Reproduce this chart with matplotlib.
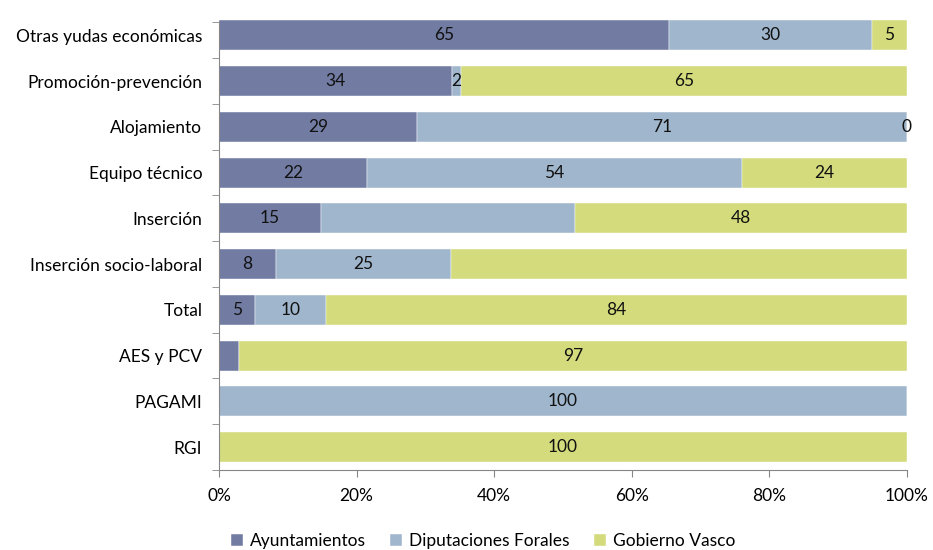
import matplotlib
matplotlib.use("Agg")
import matplotlib.pyplot as plt
from matplotlib.ticker import PercentFormatter

plt.rcParams['font.family'] = ['Lato', 'DejaVu Sans']

categories = ["Otras yudas económicas", "Promoción-prevención", "Alojamiento",
              "Equipo técnico", "Inserción", "Inserción socio-laboral", "Total",
              "AES y PCV", "PAGAMI", "RGI"]
series = ["Ayuntamientos", "Diputaciones Forales", "Gobierno Vasco"]
ayuntamientos = [65.4, 33.9, 28.8, 21.5, 14.8, 8.3, 5.2, 2.9, 0, 0]
diputaciones = [29.5, 1.3, 71.2, 54.5, 36.9, 25.4, 10.3, 0, 100, 0]
gobierno = [5.1, 64.8, 0, 24.0, 48.3, 66.3, 84.5, 97.1, 0, 100]
labels_ayto = ["65", "34", "29", "22", "15", "8", "5", "", "", ""]
labels_dip = ["30", "2", "71", "54", "", "25", "10", "", "100", ""]
labels_gv = ["5", "65", "0", "24", "48", "", "84", "97", "", "100"]
colors = ["#727CA3", "#A0B6CC", "#D4DB7C"]

FS = 12.5
fig = plt.figure(figsize=(9.33, 5.5), dpi=100)
ax = fig.add_axes([0.2347, 0.1455, 0.9721 - 0.2347, 0.9773 - 0.1455])

y = list(range(len(categories)))
left = [0] * len(categories)
for vals, labs, col, name in zip([ayuntamientos, diputaciones, gobierno],
                                 [labels_ayto, labels_dip, labels_gv], colors, series):
    ax.barh(y, vals, left=left, height=0.655, color=col, label=name,
            edgecolor='white', linewidth=0.3)
    for yi, v, l, lab in zip(y, vals, left, labs):
        if lab:
            ax.text(l + v / 2, yi, lab, ha='center', va='center', fontsize=FS, color='#111111')
    left = [a + b for a, b in zip(left, vals)]

ax.set_xlim(0, 100)
ax.set_ylim(len(categories) - 0.5, -0.5)
ax.set_yticks(y)
ax.set_yticklabels(categories, fontsize=FS)
ax.set_yticks([i - 0.5 for i in range(1, len(categories) + 1)] + [-0.3], minor=True)
ax.tick_params(axis='y', which='major', length=0, pad=12)
ax.tick_params(axis='y', which='minor', length=5, color='#868686', direction='out')
ax.set_xticks([0, 20, 40, 60, 80, 100])
ax.xaxis.set_major_formatter(PercentFormatter(decimals=0))
ax.tick_params(axis='x', length=5, color='#868686', labelsize=FS, pad=8)
for s in ['top', 'right']:
    ax.spines[s].set_visible(False)
for s in ['left', 'bottom']:
    ax.spines[s].set_color('#868686')
ax.spines['left'].set_bounds(len(categories) - 0.5, -0.3)

ax.legend(loc='center', bbox_to_anchor=(0.384, -0.155), ncol=3, frameon=False,
          fontsize=FS, handlelength=0.7, handleheight=0.7, handletextpad=0.4,
          columnspacing=1.4)

fig.savefig("out.png", dpi=100)
